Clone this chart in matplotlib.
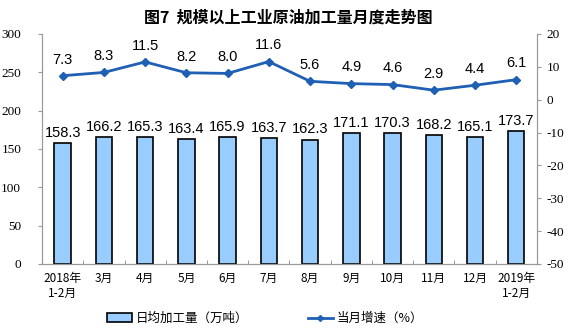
import matplotlib.pyplot as plt
import numpy as np
from matplotlib.patches import Patch
from matplotlib.lines import Line2D

plt.rcParams['font.family'] = ['Noto Sans CJK SC', 'DejaVu Sans']
plt.rcParams['axes.unicode_minus'] = False

# Data
months = ['2018年\n1-2月', '3月', '4月', '5月', '6月', '7月', '8月', '9月',
          '10月', '11月', '12月', '2019年\n1-2月']
daily_output = [158.3, 166.2, 165.3, 163.4, 165.9, 163.7, 162.3, 171.1,
                170.3, 168.2, 165.1, 173.7]
growth = [7.3, 8.3, 11.5, 8.2, 8.0, 11.6, 5.6, 4.9, 4.6, 2.9, 4.4, 6.1]

bar_color = '#99ccff'
line_color = '#1f5fb4'
num_font = 'Liberation Serif'

fig = plt.figure(figsize=(5.76, 3.30), dpi=100)
ax = fig.add_axes([0.073, 0.2, 0.859, 0.697])
ax2 = ax.twinx()

x = np.arange(len(months))
bars = ax.bar(x, daily_output, width=0.4, color=bar_color, edgecolor='black',
              linewidth=1.2, zorder=2)
for xi, v in zip(x, daily_output):
    ax.text(xi, v + 4, f'{v:.1f}', ha='center', va='bottom', fontsize=10.5,
            family='Liberation Sans')

ax2.plot(x, growth, color=line_color, linewidth=2, marker='D', markersize=4,
         zorder=3)
for xi, v in zip(x, growth):
    ax2.text(xi, v + 2.8, f'{v:.1f}', ha='center', va='bottom', fontsize=10.5,
             family='Liberation Sans')

ax.set_xlim(-0.5, len(months) - 0.5)
ax.set_ylim(0, 300)
ax.set_yticks(range(0, 301, 50))
ax2.set_ylim(-50, 20)
ax2.set_yticks(range(-50, 21, 10))

ax.set_xticks(x)
ax.set_xticklabels(months, fontsize=8.5)
ax.tick_params(axis='x', length=0, pad=6)
ax.set_xticks(np.arange(-0.5, len(months), 1), minor=True)
ax.tick_params(axis='x', which='minor', length=3, direction='in', color='#888888')

for a in (ax, ax2):
    a.spines['top'].set_visible(False)
    for s in ('left', 'right', 'bottom'):
        a.spines[s].set_color('#999999')
    a.tick_params(axis='y', labelsize=9.5, length=3, color='#999999')
    for lbl in a.get_yticklabels():
        lbl.set_family(num_font)
ax.tick_params(axis='y', pad=12)
ax2.tick_params(axis='y', pad=4)

fig.text(0.5, 0.948, '图7  规模以上工业原油加工量月度走势图', ha='center', va='center',
         fontsize=11.5, fontweight='bold')

handles = [Patch(facecolor=bar_color, edgecolor='black', linewidth=1.2),
           Line2D([0], [0], color=line_color, linewidth=2, marker='D', markersize=3)]
fig.legend(handles, ['日均加工量（万吨）', '当月增速（%）'], loc='center',
           bbox_to_anchor=(0.46, 0.035), ncol=2, frameon=False, fontsize=9,
           handlelength=2.0, handletextpad=0.3, columnspacing=4.8)

fig.savefig('out.png', dpi=100)
